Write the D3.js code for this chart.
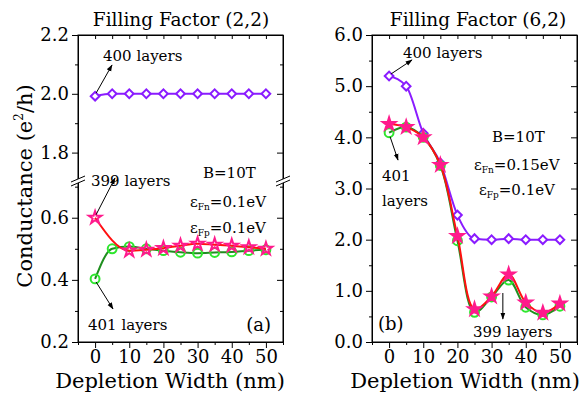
<!DOCTYPE html>
<html><head><meta charset="utf-8">
<script src="https://cdn.jsdelivr.net/npm/d3@7"></script>
<style>
body{margin:0;background:#fff}
text{font-family:'DejaVu Serif',serif;fill:#000}
</style>
</head><body><script>
// depletion width (nm)
const depth = [0,5,10,15,20,25,30,35,40,45,50];
// panel (a), filling factor (2,2)
const a400 = [1.992,2,2,2,2,2,2,2,2,2,2];
const a399 = [0.6,null,0.494,0.497,0.502,0.51,0.516,0.513,0.51,0.505,0.5];
const a401 = [0.403,0.5,0.507,0.5,0.494,0.489,0.486,0.488,0.49,0.494,0.497];
// panel (b), filling factor (6,2)
const b400 = [5.2,5.0,4.08,3.5,2.48,2.02,2.0,2.02,2.0,2.0,2.0];
const b399 = [4.26,4.2,4.0,3.46,2.07,0.64,0.89,1.32,0.77,0.57,0.75];
const b401 = [4.09,4.2,4.0,3.45,1.98,0.58,0.88,1.21,0.68,0.53,0.7];

const xTicks = [0,10,20,30,40,50];
const xMinor = [5,15,25,35,45];
const aTopTicks = [1.8,2.0,2.2], aTopMinor = [1.9,2.1];
const aBotTicks = [0.2,0.4,0.6], aBotMinor = [0.3,0.5,0.7];
const bTicks = [0,1,2,3,4,5,6], bMinor = [0.5,1.5,2.5,3.5,4.5,5.5];

const purple = '#8a1cff', redLine = '#ff1010', pink = '#ff1a8c',
      greenLine = '#1f8f1f', green = '#2ee62e';

const svg = d3.select('body').append('svg')
    .attr('width', 583).attr('height', 397);

svg.append('defs').append('marker')
    .attr('id', 'arr').attr('viewBox', '0 0 10 10')
    .attr('refX', 9).attr('refY', 5)
    .attr('markerWidth', 7).attr('markerHeight', 7)
    .attr('orient', 'auto')
  .append('path').attr('d', 'M0,1.5L10,5L0,8.5Z').attr('fill', '#000');

const fmt = d3.format('.1f');

function xAxes(g, x, yb, yt) {
    g.append('g').attr('transform', `translate(0,${yb})`)
        .call(d3.axisBottom(x).tickValues(xTicks).tickSize(6).tickSizeOuter(0).tickPadding(2));
    g.append('g').attr('transform', `translate(0,${yb})`)
        .call(d3.axisBottom(x).tickValues(xMinor).tickSize(3).tickFormat(''));
    g.append('g').attr('transform', `translate(0,${yt})`)
        .call(d3.axisTop(x).tickValues(xTicks.concat(xMinor)).tickSize(-4).tickFormat(''));
}

function yAxes(g, y, major, minor, xl, xr) {
    g.append('g').attr('transform', `translate(${xl},0)`)
        .call(d3.axisLeft(y).tickValues(major).tickSize(6).tickSizeOuter(0).tickPadding(3).tickFormat(fmt));
    g.append('g').attr('transform', `translate(${xl},0)`)
        .call(d3.axisLeft(y).tickValues(minor).tickSize(3).tickSizeOuter(0).tickFormat(''));
    g.append('g').attr('transform', `translate(${xr},0)`)
        .call(d3.axisRight(y).tickValues(major).tickSize(-6).tickSizeOuter(0).tickFormat(''));
    g.append('g').attr('transform', `translate(${xr},0)`)
        .call(d3.axisRight(y).tickValues(minor).tickSize(-3).tickSizeOuter(0).tickFormat(''));
}

function styleAxes() {
    svg.selectAll('.tick text').style('font-size', '18px').style('font-family', "'DejaVu Serif',serif");
    svg.selectAll('.domain, .tick line').attr('stroke', '#000').attr('stroke-width', 1);
}

function series(g, x, y, vals, curve, lineColor, sym, fill, stroke, rot) {
    const pts = depth.map((d, i) => [d, vals[i]]).filter(p => p[1] != null);
    g.append('path').datum(pts)
        .attr('fill', 'none').attr('stroke', lineColor).attr('stroke-width', 2)
        .attr('d', d3.line().x(p => x(p[0])).y(p => y(p[1])).curve(curve));
    g.selectAll(null).data(pts).enter().append('path')
        .attr('transform', p => `translate(${x(p[0])},${y(p[1])}) rotate(${rot})`)
        .attr('d', sym)
        .attr('fill', fill).attr('stroke', stroke).attr('stroke-width', 2);
}

const diamond = d3.symbol(d3.symbolSquare, 38)();
const circle = d3.symbol(d3.symbolCircle, 62)();
const star = d3.symbol(d3.symbolStar, 50)();

function arrow(x1, y1, x2, y2) {
    svg.append('line').attr('x1', x1).attr('y1', y1).attr('x2', x2).attr('y2', y2)
        .attr('stroke', '#000').attr('stroke-width', 1).attr('marker-end', 'url(#arr)');
}

function label(x, y, str, size, anchor) {
    return svg.append('text').attr('x', x).attr('y', y)
        .attr('text-anchor', anchor || 'start').style('font-size', size + 'px').text(str);
}

function eps(x, y, sub, rest) {
    const t = svg.append('text').attr('x', x).attr('y', y).style('font-size', '15px');
    t.append('tspan').text('ε');
    t.append('tspan').attr('dy', 3).style('font-size', '9px').text(sub);
    t.append('tspan').attr('dy', -3).text(rest);
}

// ---------- panel (a)
const xa = d3.scaleLinear().domain([-5, 55]).range([78, 283]);
const yaTop = d3.scaleLinear().domain([1.7, 2.2]).range([182, 35]);
const yaBot = d3.scaleLinear().domain([0.2, 0.715]).range([342, 182]);
const ga = svg.append('g');

xAxes(ga, xa, 342, 35);
yAxes(ga, yaTop, aTopTicks, aTopMinor, 78, 283);
yAxes(ga, yaBot, aBotTicks, aBotMinor, 78, 283);
ga.append('rect').attr('x', 78).attr('y', 35).attr('width', 205).attr('height', 307)
    .attr('fill', 'none').attr('stroke', '#000');

series(ga, xa, yaTop, a400, d3.curveMonotoneX, purple, diamond, '#fff', purple, 45);
series(ga, xa, yaBot, a401, d3.curveMonotoneX, greenLine, circle, 'none', green, 0);
series(ga, xa, yaBot, a399, d3.curveMonotoneX, redLine, star, 'none', pink, 0);

// axis breaks
[78, 283].forEach(bx => {
    svg.append('polygon')
        .attr('points', `${bx-7},${186} ${bx+7},${180} ${bx+7},${176} ${bx-7},${182}`)
        .attr('fill', '#fff');
    [0, 4].forEach(o => svg.append('line')
        .attr('x1', bx - 7).attr('y1', 186 - o).attr('x2', bx + 7).attr('y2', 180 - o)
        .attr('stroke', '#000').attr('stroke-width', 1));
});

label(181, 26, 'Filling Factor (2,2)', 18.5, 'middle');
label(103, 61, '400 layers', 15);
arrow(xa(0) + 1, yaTop(a400[0]) - 3, 112, 65);
label(91, 186, '399 layers', 15);
arrow(xa(0) + 1, yaBot(a399[0]) - 3, 115, 178);
label(88, 330, '401 layers', 15);
arrow(xa(0) + 1, yaBot(a401[0]) + 3, 113, 309);
label(271, 331, '(a)', 18, 'end');
label(203, 178, 'B=10T', 15);
eps(190, 207, 'Fn', '=0.1eV');
eps(190, 233, 'Fp', '=0.1eV');

// ---------- panel (b)
const xb = d3.scaleLinear().domain([-5, 55]).range([372, 577]);
const yb = d3.scaleLinear().domain([0, 6]).range([342, 35]);
const gb = svg.append('g');

xAxes(gb, xb, 342, 35);
yAxes(gb, yb, bTicks, bMinor, 372, 577);
gb.append('rect').attr('x', 372).attr('y', 35).attr('width', 205).attr('height', 307)
    .attr('fill', 'none').attr('stroke', '#000');

series(gb, xb, yb, b400, d3.curveMonotoneX, purple, diamond, '#fff', purple, 45);
series(gb, xb, yb, b401, d3.curveCatmullRom, greenLine, circle, 'none', green, 0);
series(gb, xb, yb, b399, d3.curveCatmullRom, redLine, star, pink, pink, 0);

label(478, 26, 'Filling Factor (6,2)', 18.5, 'middle');
label(403, 58, '400 layers', 15);
arrow(xb(0) + 2, yb(b400[0]) - 2, 412, 60);
label(382, 181, '401', 15);
label(382, 206, 'layers', 15);
arrow(xb(0) + 1, yb(b401[0]) + 4, 398, 160);
label(473, 337, '399 layers', 15);
arrow(xb(33.3), 293, xb(33.3), 319);
label(378, 330, '(b)', 18);
label(492, 142, 'B=10T', 15);
eps(474, 170, 'Fn', '=0.15eV');
eps(479, 195, 'Fp', '=0.1eV');

// axis titles
label(170, 388, 'Depletion Width (nm)', 21, 'middle');
label(465, 388, 'Depletion Width (nm)', 21, 'middle');
const yl = svg.append('text').attr('transform', 'translate(32,186) rotate(-90)')
    .attr('text-anchor', 'middle').style('font-size', '21px');
yl.append('tspan').text('Conductance (e');
yl.append('tspan').attr('dy', -9).style('font-size', '12px').text('2');
yl.append('tspan').attr('dy', 9).text('/h)');

styleAxes();
</script></body></html>
